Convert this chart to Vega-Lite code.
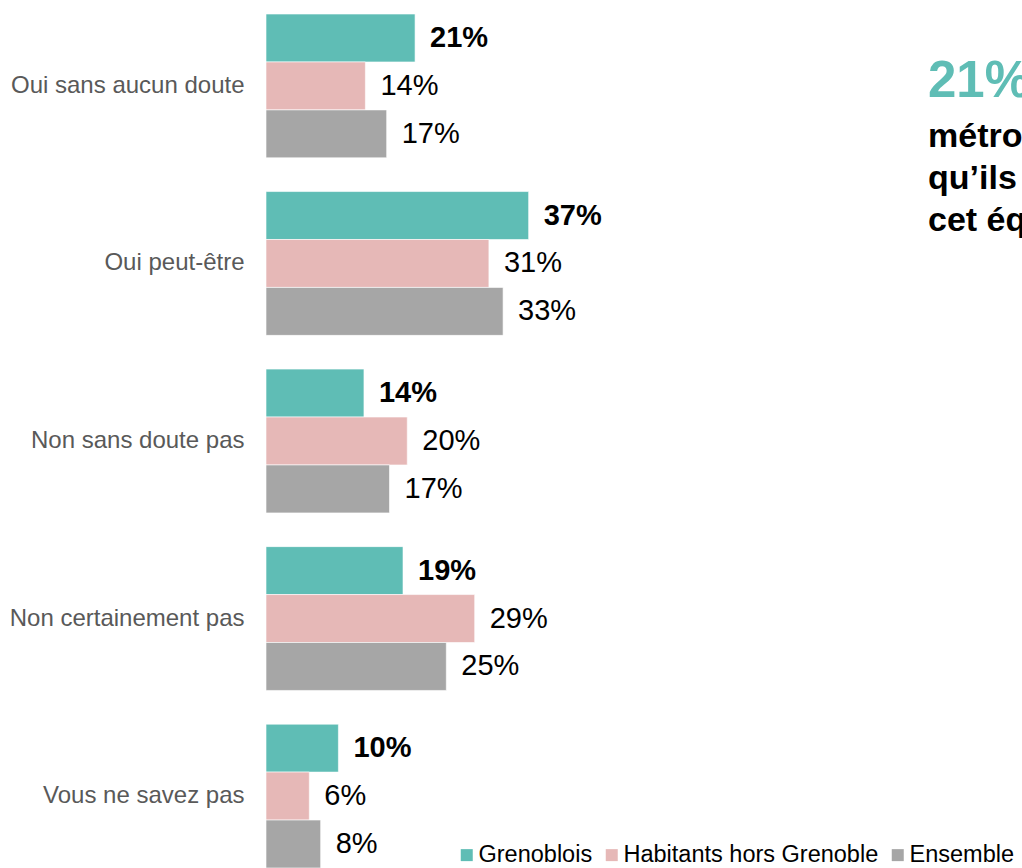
{
  "$schema": "https://vega.github.io/schema/vega-lite/v6.json",
  "autosize": "none",
  "padding": {"left": 266, "top": 0, "right": 0, "bottom": 0},
  "width": 756,
  "height": 882,
  "background": "white",
  "config": {"view": {"stroke": null}, "font": "Liberation Sans"},
  "title": {
    "text": "21% des habitants",
    "subtitle": ["métropolitains déclarent", "qu’ils utiliseraient", "cet équipement"],
    "orient": "top",
    "anchor": "start",
    "frame": "group",
    "dx": 662,
    "dy": 243,
    "font": "Liberation Sans",
    "fontSize": 51,
    "fontWeight": "bold",
    "color": "#5FBDB5",
    "subtitleFont": "Liberation Sans",
    "subtitleFontSize": 34,
    "subtitleFontWeight": "bold",
    "subtitleColor": "#000000",
    "subtitleLineHeight": 42,
    "subtitlePadding": 12
  },
  "data": {
    "values": [
      {"cat": "Oui sans aucun doute", "serie": "Grenoblois", "v": 0.21},
      {"cat": "Oui sans aucun doute", "serie": "Habitants hors Grenoble", "v": 0.14},
      {"cat": "Oui sans aucun doute", "serie": "Ensemble", "v": 0.17},
      {"cat": "Oui peut-être", "serie": "Grenoblois", "v": 0.37},
      {"cat": "Oui peut-être", "serie": "Habitants hors Grenoble", "v": 0.314},
      {"cat": "Oui peut-être", "serie": "Ensemble", "v": 0.334},
      {"cat": "Non sans doute pas", "serie": "Grenoblois", "v": 0.138},
      {"cat": "Non sans doute pas", "serie": "Habitants hors Grenoble", "v": 0.199},
      {"cat": "Non sans doute pas", "serie": "Ensemble", "v": 0.174},
      {"cat": "Non certainement pas", "serie": "Grenoblois", "v": 0.193},
      {"cat": "Non certainement pas", "serie": "Habitants hors Grenoble", "v": 0.294},
      {"cat": "Non certainement pas", "serie": "Ensemble", "v": 0.254},
      {"cat": "Vous ne savez pas", "serie": "Grenoblois", "v": 0.102},
      {"cat": "Vous ne savez pas", "serie": "Habitants hors Grenoble", "v": 0.061},
      {"cat": "Vous ne savez pas", "serie": "Ensemble", "v": 0.077}
    ]
  },
  "encoding": {
    "y": {
      "field": "cat", "type": "nominal", "sort": null, "title": null,
      "scale": {"paddingInner": 0.19, "paddingOuter": 0.079},
      "axis": {"domain": false, "ticks": false, "labelFont": "Liberation Sans", "labelFontSize": 24, "labelColor": "#595959", "labelPadding": 22, "labelLimit": 300}
    },
    "yOffset": {
      "field": "serie", "type": "nominal",
      "sort": ["Grenoblois", "Habitants hors Grenoble", "Ensemble"],
      "scale": {"paddingInner": 0, "paddingOuter": 0}
    },
    "x": {
      "field": "v", "type": "quantitative",
      "scale": {"domain": [0, 1.065], "nice": false},
      "axis": null
    }
  },
  "layer": [
    {
      "mark": {"type": "bar", "stroke": "#ffffff", "strokeWidth": 1, "strokeOpacity": 0.6},
      "encoding": {
        "color": {
          "field": "serie", "type": "nominal",
          "sort": ["Grenoblois", "Habitants hors Grenoble", "Ensemble"],
          "scale": {"domain": ["Grenoblois", "Habitants hors Grenoble", "Ensemble"], "range": ["#5FBDB5", "#E6B8B7", "#A6A6A6"]},
          "legend": {
            "title": null,
            "orient": "none",
            "direction": "horizontal",
            "legendX": 189,
            "legendY": 843,
            "symbolType": "square",
            "symbolSize": 144,
            "symbolStrokeWidth": 0,
            "labelFont": "Liberation Sans",
            "labelFontSize": 23.5,
            "labelColor": "#000000",
            "labelOffset": 0,
            "columnPadding": 7,
            "labelLimit": 400
          }
        }
      }
    },
    {
      "transform": [{"filter": "datum.serie === 'Grenoblois'"}],
      "mark": {"type": "text", "align": "left", "baseline": "middle", "dx": 15, "fontSize": 29, "fontWeight": "bold", "font": "Liberation Sans", "color": "#000000"},
      "encoding": {"text": {"field": "v", "type": "quantitative", "format": ".0%"}}
    },
    {
      "transform": [{"filter": "datum.serie !== 'Grenoblois'"}],
      "mark": {"type": "text", "align": "left", "baseline": "middle", "dx": 15, "fontSize": 29, "font": "Liberation Sans", "color": "#000000"},
      "encoding": {"text": {"field": "v", "type": "quantitative", "format": ".0%"}}
    }
  ]
}
